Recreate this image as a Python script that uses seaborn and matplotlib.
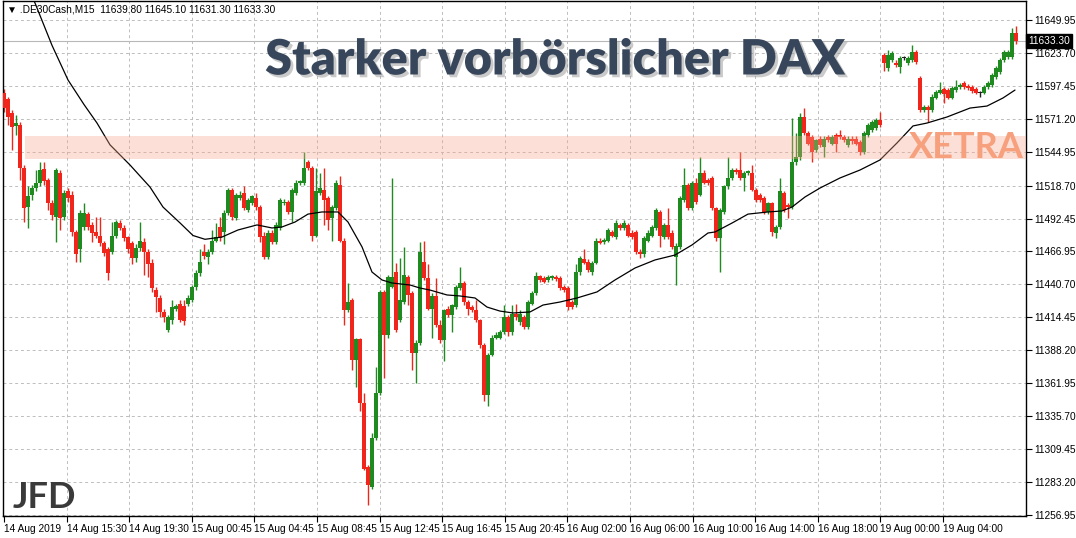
import numpy as np
import pandas as pd
import matplotlib
matplotlib.use("Agg")
import matplotlib.pyplot as plt
import matplotlib.patheffects as pe
import seaborn as sns

# ---------------- data ----------------
symbol_header = "\u25BC .DE30Cash,M15  11639.80 11645.10 11631.30 11633.30"
title_text = "Starker vorbörslicher DAX"
zone_label = "XETRA"
logo_text = "JFD"

open_ = [11592, 11587, 11576, 11566, 11567, 11533, 11502, 11511, 11517, 11521,
         11532, 11523, 11505, 11494, 11529, 11494, 11514, 11511, 11482, 11468,
         11486, 11496, 11487, 11482, 11479, 11473, 11468, 11466, 11479, 11489,
         11485, 11478, 11473, 11461, 11469, 11474, 11466, 11457, 11436, 11429,
         11418, 11404, 11412, 11421, 11425, 11423, 11425, 11428, 11438, 11449,
         11466, 11462, 11466, 11475, 11486, 11482, 11497, 11515, 11493, 11509,
         11513, 11499, 11505, 11509, 11502, 11479, 11462, 11481, 11474, 11485,
         11505, 11506, 11498, 11513, 11521, 11521, 11537, 11533, 11479, 11513,
         11515, 11509, 11493, 11501, 11519, 11475, 11420, 11428, 11380, 11397,
         11346, 11295, 11279, 11318, 11354, 11434, 11400, 11438, 11450, 11412,
         11426, 11446, 11433, 11386, 11394, 11458, 11445, 11421, 11431, 11408,
         11396, 11421, 11416, 11422, 11437, 11441, 11426, 11422, 11420, 11412,
         11392, 11352, 11384, 11398, 11398, 11402, 11414, 11402, 11417, 11410,
         11414, 11406, 11425, 11433, 11447, 11445, 11444, 11445, 11446, 11445,
         11438, 11437, 11426, 11424, 11450, 11460, 11458, 11450, 11457, 11475,
         11474, 11475, 11482, 11478, 11487, 11485, 11487, 11481, 11482, 11466,
         11464, 11475, 11479, 11485, 11498, 11478, 11487, 11481, 11462, 11470,
         11507, 11519, 11501, 11521, 11511, 11529, 11523, 11525, 11501, 11477,
         11498, 11518, 11525, 11531, 11531, 11525, 11529, 11529, 11515, 11511,
         11509, 11498, 11505, 11481, 11486, 11513, 11503, 11502, 11537, 11541,
         11573, 11560, 11557, 11547, 11556, 11549, 11557, 11552, 11559, 11559,
         11557, 11551, 11556, 11556, 11553, 11545, 11559, 11563, 11564, 11571,
         11622, 11612, 11618, 11616, 11613, 11620, 11616, 11618, 11625, 11604,
         11579, 11581, 11579, 11588, 11592, 11595, 11594.5, 11588, 11594.5, 11597,
         11600, 11598, 11597, 11595, 11592, 11592, 11597, 11598.5, 11605, 11609,
         11618, 11621, 11621, 11639.8]

high = [11595, 11589, 11579, 11575, 11569, 11535, 11518, 11519, 11531, 11537,
        11537, 11525, 11507, 11533, 11531, 11515, 11517, 11514, 11483, 11499,
        11505, 11498, 11490, 11494, 11494, 11475, 11470, 11490, 11491, 11491,
        11487, 11479, 11475, 11472, 11490, 11477, 11468, 11460, 11438, 11432,
        11421, 11416, 11428, 11425, 11428, 11428, 11432, 11440, 11452, 11468,
        11472, 11468, 11483, 11489, 11494, 11499, 11517, 11517, 11513, 11514,
        11518, 11509, 11511, 11513, 11503, 11482, 11483, 11483, 11490, 11509,
        11508, 11507, 11517, 11523, 11523, 11545, 11539, 11534, 11533, 11529,
        11533, 11510, 11503, 11523, 11526, 11477, 11441, 11429, 11398, 11398,
        11354, 11297, 11322, 11375, 11436, 11436, 11448, 11525, 11457, 11461,
        11470, 11448, 11435, 11396, 11474, 11475, 11456, 11433, 11445, 11412,
        11421, 11423, 11425, 11440, 11454, 11443, 11428, 11424, 11428, 11413,
        11394, 11386, 11400, 11402, 11404, 11424, 11416, 11424, 11425, 11420,
        11416, 11428, 11435, 11450, 11448, 11447, 11448, 11448, 11448, 11447,
        11440, 11439, 11428, 11456, 11463, 11468, 11460, 11459, 11477, 11477,
        11477, 11485, 11483, 11491, 11489, 11491, 11489, 11483, 11483, 11468,
        11479, 11483, 11487, 11501, 11499, 11489, 11501, 11483, 11473, 11510,
        11533, 11521, 11522, 11525, 11541, 11531, 11525, 11526, 11502, 11501,
        11519, 11541, 11533, 11533, 11545, 11530, 11531, 11535, 11517, 11513,
        11510, 11506, 11506, 11487, 11525, 11514, 11505, 11572, 11560, 11576,
        11580, 11562, 11559, 11556, 11558, 11558, 11559, 11559, 11560, 11563,
        11559, 11558, 11558, 11558, 11555, 11562, 11568, 11571, 11572, 11577,
        11624, 11626, 11625.5, 11618, 11621.5, 11621.5, 11621.5, 11630, 11626, 11606,
        11583, 11583, 11591, 11594.5, 11601, 11597, 11596, 11598, 11602.5, 11600,
        11602, 11599, 11598.5, 11597, 11594, 11598.5, 11602, 11608, 11613.6, 11620,
        11626, 11626, 11644, 11645.1]

low = [11577, 11567, 11547, 11559, 11523, 11490, 11485, 11507, 11514, 11518,
       11519, 11499, 11491, 11474, 11483, 11491, 11506, 11479, 11458, 11458,
       11483, 11483, 11474, 11477, 11471, 11463, 11444, 11464, 11477, 11483,
       11475, 11465, 11456, 11458, 11467, 11448, 11446, 11434, 11418, 11414,
       11410, 11402, 11409, 11419, 11410, 11408, 11423, 11426, 11436, 11447,
       11460, 11456, 11464, 11474, 11475, 11472, 11495, 11491, 11491, 11507,
       11499, 11498, 11503, 11499, 11474, 11460, 11460, 11472, 11472, 11483,
       11503, 11496, 11490, 11511, 11519, 11519, 11531, 11475, 11478, 11511,
       11487, 11483, 11475, 11499, 11474, 11408, 11418, 11372, 11359, 11340,
       11293, 11265, 11278, 11317, 11352, 11366, 11398, 11437, 11402, 11410,
       11425, 11424, 11372, 11362, 11392, 11444, 11420, 11398, 11406, 11394,
       11379, 11414, 11402, 11421, 11436, 11424, 11416, 11418, 11410, 11390,
       11348, 11344, 11383, 11397, 11397, 11401, 11399, 11400, 11412, 11408,
       11405, 11405, 11424, 11432, 11442, 11441, 11442, 11444, 11443, 11436,
       11434, 11420, 11421, 11422, 11448, 11456, 11450, 11448, 11456, 11472,
       11472, 11474, 11478, 11476, 11483, 11483, 11478, 11476, 11464, 11461,
       11462, 11474, 11478, 11483, 11470, 11476, 11476, 11468, 11440, 11468,
       11506, 11499, 11499, 11504, 11510, 11520, 11519, 11499, 11475, 11450,
       11496, 11516, 11523, 11528, 11523, 11514, 11527, 11514, 11506, 11506,
       11496, 11496, 11479, 11477, 11484, 11498, 11493, 11500, 11535, 11539,
       11559, 11551, 11537, 11545, 11549, 11541, 11553, 11551, 11545, 11556,
       11553, 11549, 11552, 11551, 11543, 11544, 11557, 11561, 11563, 11565,
       11610, 11610, 11617, 11613, 11608, 11618, 11614, 11617, 11615, 11577,
       11577, 11569, 11577, 11587, 11591, 11584, 11587, 11587, 11593, 11595,
       11595, 11594.5, 11592, 11591, 11589, 11591, 11595, 11597, 11603, 11607,
       11617, 11619, 11619, 11631.3]

close = [11580, 11573, 11565, 11568, 11533, 11501, 11510, 11517, 11521, 11531,
         11522, 11505, 11495, 11531, 11493, 11513, 11509, 11482, 11464, 11497,
         11497, 11486, 11481, 11479, 11473, 11465, 11449, 11479, 11490, 11485,
         11477, 11468, 11461, 11469, 11475, 11466, 11456, 11437, 11430, 11418,
         11414, 11414, 11422, 11423, 11412, 11411, 11429, 11438, 11449, 11458,
         11463, 11466, 11475, 11478, 11477, 11497, 11515, 11494, 11511, 11511,
         11501, 11507, 11510, 11502, 11478, 11462, 11481, 11474, 11487, 11507,
         11506, 11498, 11515, 11521, 11522, 11533, 11533, 11479, 11514, 11517,
         11507, 11491, 11502, 11521, 11475, 11420, 11426, 11380, 11397, 11346,
         11294, 11281, 11318, 11354, 11434, 11400, 11446, 11446, 11404, 11428,
         11448, 11432, 11386, 11394, 11466, 11445, 11421, 11431, 11408, 11396,
         11420, 11416, 11424, 11438, 11441, 11426, 11421, 11420, 11412, 11392,
         11352, 11384, 11398, 11400, 11402, 11414, 11402, 11417, 11414, 11417,
         11406, 11426, 11433, 11447, 11444, 11442, 11446, 11447, 11444.5, 11437,
         11436, 11422, 11422, 11450, 11461, 11457, 11452, 11457, 11475, 11473,
         11475.5, 11483, 11479, 11489, 11485, 11489, 11479, 11478, 11466, 11464,
         11477, 11481, 11486, 11499, 11479, 11487, 11478, 11470, 11471, 11509,
         11519, 11501, 11521, 11506, 11529, 11521, 11521, 11501, 11477, 11499,
         11518, 11525, 11531, 11529.5, 11525, 11529, 11530, 11515, 11507, 11507,
         11498, 11505, 11482, 11486, 11514, 11499, 11502, 11537, 11541, 11573,
         11560, 11552, 11545, 11555, 11551, 11556, 11555, 11557, 11552, 11557,
         11555, 11556, 11554, 11552, 11545, 11560, 11567, 11569, 11571, 11567,
         11616, 11622, 11624, 11614, 11620, 11620, 11620, 11625, 11617, 11579,
         11581, 11579, 11589, 11593, 11594.5, 11591, 11588, 11596, 11597, 11598.5,
         11597, 11596, 11594, 11592, 11592, 11597, 11600, 11606.5, 11612, 11618,
         11625, 11625, 11640, 11633.3]

# moving average line, read at bar positions
ma_bar = [0, 7.75, 12, 16, 20, 23.25, 26.5, 31.5, 36.5, 39.75, 44, 47.25, 50.25, 54.5, 58.5,
          63.25, 67, 69.5, 72.75, 76, 79.5, 83.5, 86, 89.5, 92, 94.5, 97, 101.5,
          104, 106.5, 110.75, 114, 117.75, 120.75, 124, 127.25, 131.5, 134.75,
          139, 143.25, 148.25, 152.75, 157.75, 162.75, 167.75, 172, 176, 177.75,
          182, 186, 191, 194.5, 197, 200.25, 204, 209, 214, 219, 223.25, 227.25,
          230.75, 235.75, 241.5, 245.75, 249.75, 252.75]
ma_val = [11720, 11663.6, 11630, 11602.5, 11583, 11568.3, 11551, 11535, 11517.5, 11501.6, 11489,
          11479, 11476, 11477.8, 11483.4, 11487.4, 11485, 11485.8, 11489.7, 11496,
          11497.7, 11497.7, 11489.7, 11470, 11450, 11443.7, 11441.3, 11439.7,
          11437.3, 11435.7, 11431.8, 11431, 11429.4, 11422.2, 11419, 11417.5,
          11418.3, 11423.8, 11426.2, 11429.4, 11434.2, 11443.7, 11453.2, 11459.6,
          11463.5, 11471.5, 11481, 11481.8, 11488.9, 11496, 11497.7, 11498.5,
          11501.6, 11509.6, 11516.7, 11524.7, 11531, 11539, 11552.5, 11566,
          11568.3, 11573.1, 11580.2, 11581.8, 11588.2, 11594.5]

ytick_labels = ["11649.95", "11623.70", "11597.45", "11571.20", "11544.95", "11518.70",
                "11492.45", "11466.95", "11440.70", "11414.45", "11388.20", "11361.95",
                "11335.70", "11309.45", "11283.20", "11256.95"]
xtick_labels = ["14 Aug 2019", "14 Aug 15:30", "14 Aug 19:30", "15 Aug 00:45",
                "15 Aug 04:45", "15 Aug 08:45", "15 Aug 12:45", "15 Aug 16:45",
                "15 Aug 20:45", "16 Aug 02:00", "16 Aug 06:00", "16 Aug 10:00",
                "16 Aug 14:00", "16 Aug 18:00", "19 Aug 00:00", "19 Aug 04:00"]

xetra_low, xetra_high = 11539.4, 11558.0

# ---------------- style ----------------
sns.set_theme(style="white")
plt.rcParams["font.family"] = ["Liberation Sans", "DejaVu Sans"]

W, H = 1076, 538
fig = plt.figure(figsize=(W / 100, H / 100), dpi=100)
fig.patch.set_facecolor("white")
ax = fig.add_axes([3 / W, 1 - 516 / H, 1023 / W, 515 / H])
ax.set_facecolor("white")

df = pd.DataFrame({"o": open_, "h": high, "l": low, "c": close})
df["x"] = np.arange(len(df))
GREEN, RED, DOJI = "#1f8a1f", "#f0261c", "#202020"
cols = np.where(df.c > df.o, GREEN, np.where(df.c < df.o, RED, DOJI))
bottoms = np.minimum(df.o, df.c)
heights = np.maximum(np.abs(df.c - df.o), 0.8)

ax.set_xlim(-0.25, 255.5)
ax.set_ylim(11256.3, 11665.2)

# grid
ytick_pos = [float(v) for v in ytick_labels]
xtick_pos = np.arange(len(xtick_labels)) * 15.65
for yv in ytick_pos:
    ax.axhline(yv, color="#bdbdbd", lw=0.7, ls=(0, (3, 3)), zorder=0)
for xv in xtick_pos[1:]:
    ax.axvline(xv, color="#bdbdbd", lw=0.7, ls=(0, (3, 3)), zorder=0)

# bid line
ax.axhline(close[-1], color="#b8b8b8", lw=0.8, zorder=0.5)

# candles
ax.vlines(df.x, df.l, df.h, colors=cols, lw=1.0, zorder=2)
ax.bar(df.x, heights, bottom=bottoms, width=0.78, color=cols, linewidth=0, zorder=3)

# moving average
sns.lineplot(x=ma_bar, y=ma_val, color="black", lw=0.9, ax=ax, zorder=4, sort=False)

# XETRA zone (semi-transparent overlay)
ax.axhspan(xetra_low, xetra_high, xmin=22 / 1023, xmax=1, facecolor="#f9a58a",
           alpha=0.35, lw=0, zorder=5)

# axes and ticks
for s in ["left", "bottom", "right", "top"]:
    ax.spines[s].set_color("black")
    ax.spines[s].set_linewidth(1.0)
ax.yaxis.tick_right()
ax.set_yticks(ytick_pos)
ax.set_yticklabels(ytick_labels)
ax.set_xticks(xtick_pos)
ax.set_xticklabels(xtick_labels)
ax.tick_params(axis="y", direction="out", length=4, width=0.8, pad=2,
               labelsize=7.3, colors="black", right=True, left=False)
ax.tick_params(axis="x", direction="out", length=4, width=0.8, pad=2,
               labelsize=7.3, colors="black", bottom=True)
for lab in ax.get_xticklabels():
    lab.set_ha("left")
ax.grid(False)
ax.set_xlabel("")
ax.set_ylabel("")

# current price tag
ax.text(1.002, close[-1], f"{close[-1]:.2f}", transform=ax.get_yaxis_transform(),
        ha="left", va="center", color="white", fontsize=7.3, zorder=10,
        bbox=dict(boxstyle="square,pad=0.2", fc="black", ec="black"), clip_on=False)

# header
fig.text(7 / W, 1 - 10 / H, symbol_header, ha="left", va="center", fontsize=7.3,
         color="black")

# title
fig.text(555 / W, 1 - 60 / H, title_text, ha="center", va="center",
         fontsize=35, fontweight="heavy", color="#37465a", family="Lato",
         path_effects=[pe.SimplePatchShadow(offset=(2, -2), shadow_rgbFace="#8a8a8a",
                                            alpha=0.45), pe.Normal()], zorder=20)

# XETRA label
fig.text(966 / W, 1 - 147 / H, zone_label, ha="center", va="center", fontsize=26,
         fontweight="bold", color="#f7a07d", family="Lato", zorder=20)

# logo
fig.text(44 / W, 1 - 497 / H, logo_text, ha="center", va="center", fontsize=26,
         fontweight="bold", color="#3a3a3a", family="Lato", zorder=20)

fig.savefig("out.png", dpi=100, facecolor="white")
